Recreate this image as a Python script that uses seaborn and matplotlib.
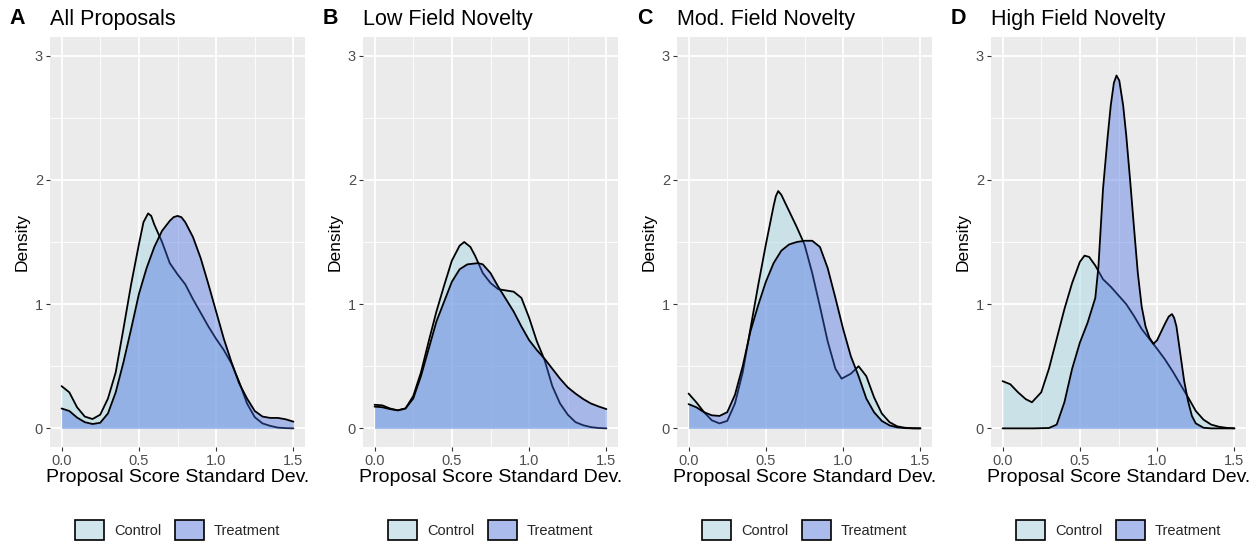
import numpy as np
import pandas as pd
import matplotlib
matplotlib.use("Agg")
import matplotlib.pyplot as plt
import seaborn as sns
from matplotlib.patches import Patch

# ---------------- data ----------------
panel_tags = ["A", "B", "C", "D"]
panel_titles = ["All Proposals", "Low Field Novelty", "Mod. Field Novelty", "High Field Novelty"]
groups = ["Control", "Treatment"]
x_ticks = [0.0, 0.5, 1.0, 1.5]
x_tick_labels = ["0.0", "0.5", "1.0", "1.5"]
y_ticks = [0, 1, 2, 3]
y_tick_labels = ["0", "1", "2", "3"]

# Panel A - All Proposals
a_ctrl_x = [0, 0.05, 0.1, 0.15, 0.2, 0.25, 0.3, 0.35, 0.4, 0.45, 0.5, 0.53, 0.56, 0.58, 0.6, 0.65, 0.7,
            0.75, 0.8, 0.85, 0.9, 0.95, 1.0, 1.05, 1.1, 1.15, 1.2, 1.25, 1.3, 1.35, 1.4, 1.45, 1.5]
a_ctrl_y = [0.34, 0.29, 0.17, 0.095, 0.075, 0.11, 0.24, 0.45, 0.80, 1.16, 1.48, 1.66, 1.73, 1.71, 1.64, 1.50, 1.33,
            1.24, 1.16, 1.04, 0.93, 0.82, 0.72, 0.63, 0.52, 0.37, 0.20, 0.09, 0.04, 0.02, 0.006, 0.002, 0.0]
a_trt_x = [0, 0.05, 0.1, 0.15, 0.2, 0.25, 0.3, 0.35, 0.4, 0.45, 0.5, 0.55, 0.6, 0.65, 0.7, 0.725, 0.75, 0.775,
           0.8, 0.85, 0.9, 0.95, 1.0, 1.05, 1.1, 1.15, 1.2, 1.25, 1.3, 1.35, 1.4, 1.45, 1.5]
a_trt_y = [0.16, 0.14, 0.087, 0.05, 0.035, 0.045, 0.12, 0.29, 0.53, 0.80, 1.08, 1.29, 1.46, 1.59, 1.67, 1.70, 1.71, 1.70,
           1.66, 1.54, 1.37, 1.16, 0.94, 0.72, 0.53, 0.36, 0.24, 0.14, 0.095, 0.084, 0.084, 0.073, 0.054]

# Panel B - Low Field Novelty
b_ctrl_x = [0, 0.05, 0.1, 0.15, 0.2, 0.25, 0.3, 0.35, 0.4, 0.45, 0.5, 0.55, 0.58, 0.62, 0.65, 0.7,
            0.75, 0.8, 0.85, 0.9, 0.95, 1.0, 1.05, 1.1, 1.15, 1.2, 1.25, 1.3, 1.35, 1.4, 1.45, 1.5]
b_ctrl_y = [0.19, 0.185, 0.16, 0.145, 0.16, 0.26, 0.45, 0.70, 0.94, 1.15, 1.35, 1.47, 1.50, 1.46, 1.39, 1.25,
            1.17, 1.12, 1.11, 1.10, 1.05, 0.89, 0.70, 0.55, 0.34, 0.20, 0.11, 0.05, 0.025, 0.01, 0.003, 0.0]
b_trt_x = [0, 0.05, 0.1, 0.15, 0.2, 0.25, 0.3, 0.35, 0.4, 0.45, 0.5, 0.55, 0.6, 0.67, 0.7, 0.75,
           0.8, 0.85, 0.9, 0.95, 1.0, 1.05, 1.1, 1.15, 1.2, 1.25, 1.3, 1.35, 1.4, 1.45, 1.5]
b_trt_y = [0.175, 0.17, 0.155, 0.145, 0.16, 0.24, 0.42, 0.64, 0.86, 1.02, 1.18, 1.28, 1.32, 1.33, 1.32, 1.25,
           1.14, 1.04, 0.94, 0.82, 0.71, 0.63, 0.56, 0.48, 0.40, 0.33, 0.28, 0.236, 0.20, 0.176, 0.155]

# Panel C - Mod. Field Novelty
c_ctrl_x = [0, 0.05, 0.1, 0.15, 0.2, 0.25, 0.3, 0.35, 0.4, 0.45, 0.5, 0.55, 0.565, 0.58, 0.6, 0.65, 0.7,
            0.75, 0.8, 0.85, 0.9, 0.95, 0.99, 1.05, 1.1, 1.15, 1.2, 1.25, 1.3, 1.35, 1.4, 1.45, 1.5]
c_ctrl_y = [0.28, 0.21, 0.13, 0.065, 0.04, 0.06, 0.20, 0.45, 0.80, 1.15, 1.48, 1.79, 1.87, 1.91, 1.88, 1.75, 1.62,
            1.48, 1.25, 0.98, 0.70, 0.48, 0.40, 0.44, 0.50, 0.42, 0.25, 0.12, 0.05, 0.016, 0.005, 0.001, 0.0]
c_trt_x = [0, 0.05, 0.1, 0.15, 0.2, 0.25, 0.3, 0.35, 0.4, 0.45, 0.5, 0.55, 0.6, 0.65, 0.7, 0.75,
           0.8, 0.85, 0.9, 0.95, 1.0, 1.05, 1.1, 1.15, 1.2, 1.25, 1.3, 1.35, 1.4, 1.45, 1.5]
c_trt_y = [0.195, 0.17, 0.13, 0.105, 0.10, 0.13, 0.27, 0.50, 0.78, 0.99, 1.18, 1.33, 1.43, 1.48, 1.50, 1.51,
           1.51, 1.46, 1.29, 1.05, 0.80, 0.58, 0.42, 0.24, 0.13, 0.06, 0.024, 0.008, 0.002, 0.0, 0.0]

# Panel D - High Field Novelty
d_ctrl_x = [0, 0.05, 0.1, 0.15, 0.19, 0.25, 0.3, 0.35, 0.4, 0.45, 0.5, 0.53, 0.56, 0.6, 0.65, 0.7,
            0.75, 0.8, 0.85, 0.9, 0.95, 1.0, 1.05, 1.1, 1.15, 1.2, 1.25, 1.3, 1.35, 1.4, 1.45, 1.5]
d_ctrl_y = [0.38, 0.355, 0.29, 0.235, 0.21, 0.29, 0.48, 0.72, 0.96, 1.17, 1.34, 1.39, 1.38, 1.31, 1.20, 1.14,
            1.07, 1.00, 0.905, 0.80, 0.72, 0.64, 0.556, 0.46, 0.355, 0.25, 0.14, 0.07, 0.03, 0.013, 0.004, 0.0]
d_trt_x = [0, 0.1, 0.2, 0.3, 0.35, 0.4, 0.45, 0.5, 0.55, 0.6, 0.62, 0.65, 0.68, 0.7, 0.72, 0.737, 0.755, 0.78,
           0.8, 0.825, 0.85, 0.875, 0.9, 0.925, 0.95, 0.976, 1.0, 1.05, 1.075, 1.096, 1.11, 1.125, 1.15, 1.175,
           1.2, 1.225, 1.25, 1.3, 1.35, 1.5]
d_trt_y = [0.0, 0.0, 0.0, 0.003, 0.03, 0.21, 0.48, 0.69, 0.85, 1.05, 1.30, 1.93, 2.35, 2.60, 2.78, 2.84, 2.80, 2.60,
           2.36, 2.00, 1.62, 1.25, 0.98, 0.82, 0.73, 0.68, 0.71, 0.84, 0.90, 0.92, 0.89, 0.82, 0.60, 0.38,
           0.22, 0.10, 0.04, 0.005, 0.0, 0.0]

series = {
    ("A", "Control"): (a_ctrl_x, a_ctrl_y), ("A", "Treatment"): (a_trt_x, a_trt_y),
    ("B", "Control"): (b_ctrl_x, b_ctrl_y), ("B", "Treatment"): (b_trt_x, b_trt_y),
    ("C", "Control"): (c_ctrl_x, c_ctrl_y), ("C", "Treatment"): (c_trt_x, c_trt_y),
    ("D", "Control"): (d_ctrl_x, d_ctrl_y), ("D", "Treatment"): (d_trt_x, d_trt_y),
}
rows = []
for (p, g), (xs, ys) in series.items():
    for xv, yv in zip(xs, ys):
        rows.append({"panel": p, "group": g, "x": xv, "density": yv})
df = pd.DataFrame(rows)

# ---------------- style ----------------
sns.set_theme(style="darkgrid", rc={"axes.facecolor": "#EBEBEB", "grid.color": "white"})
plt.rcParams["font.family"] = ["Liberation Sans", "DejaVu Sans"]

fill_colors = {"Control": "lightblue", "Treatment": "royalblue"}
fill_alpha = {"Control": 0.5, "Treatment": 0.4}
legend_colors = {"Control": "#D0E5EC", "Treatment": "#ABBBEB"}

W, H = 1254, 544
fig = plt.figure(figsize=(W / 100, H / 100), dpi=100)
fig.patch.set_facecolor("white")

lefts = [50, 363, 677, 991]
ax_w, ax_top, ax_bot = 255, 37, 447

for i, tag in enumerate(panel_tags):
    l = lefts[i]
    ax = fig.add_axes([l / W, (H - ax_bot) / H, ax_w / W, (ax_bot - ax_top) / H])
    ax.set_facecolor("#EBEBEB")
    for j, g in enumerate(groups):
        d = df[(df.panel == tag) & (df.group == g)]
        z = 2 + j
        ax.fill_between(d["x"], 0, d["density"], facecolor=fill_colors[g], alpha=fill_alpha[g],
                        linewidth=0, zorder=z)
        sns.lineplot(data=d, x="x", y="density", ax=ax, color="black", linewidth=1.3,
                     estimator=None, sort=False, legend=False, zorder=z + 0.5)
    ax.set_xlim(-0.075, 1.575)
    ax.set_ylim(-0.15, 3.15)
    ax.set_xticks(x_ticks)
    ax.set_xticklabels(x_tick_labels)
    ax.set_yticks(y_ticks)
    ax.set_yticklabels(y_tick_labels)
    ax.set_xticks([0.25, 0.75, 1.25], minor=True)
    ax.set_yticks([0.5, 1.5, 2.5], minor=True)
    ax.grid(which="major", color="white", linewidth=1.3)
    ax.grid(which="minor", color="white", linewidth=0.6)
    ax.set_axisbelow(True)
    for s in ax.spines.values():
        s.set_visible(False)
    ax.tick_params(which="major", direction="out", length=3, width=0.8, color="#333333",
                   labelsize=10.5, labelcolor="#4D4D4D", pad=2, bottom=True, left=True)
    ax.tick_params(which="minor", length=0)
    ax.set_xlabel("Proposal Score Standard Dev.", fontsize=14, color="black", labelpad=1)
    ax.set_ylabel("Density", fontsize=12.5, color="black", labelpad=4)

    # title + tag
    fig.text(l / W, 1 - 19 / H, panel_titles[i], fontsize=15.5, ha="left", va="center", color="black")
    tag_x = 9 if i == 0 else l - 40
    fig.text(tag_x / W, 1 - 19 / H, tag, fontsize=15.5, fontweight="bold", ha="left", va="center",
             color="black")

    # legend
    handles = [Patch(facecolor=legend_colors[g], edgecolor="black", linewidth=1.2, label=g) for g in groups]
    fig.legend(handles=handles, loc="center", ncol=2, frameon=False, fontsize=10.5,
               bbox_to_anchor=((l + ax_w / 2) / W, 14 / H), bbox_transform=fig.transFigure,
               handlelength=2.0, handleheight=1.7, handletextpad=0.7, columnspacing=0.9,
               borderaxespad=0, borderpad=0)

fig.savefig("out.png", dpi=100)
